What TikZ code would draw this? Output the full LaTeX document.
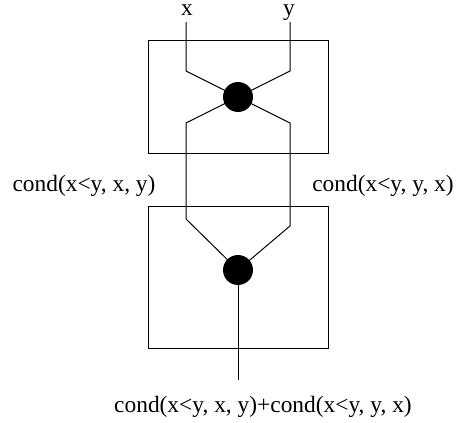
\documentclass[tikz,border=0pt]{standalone}
\usepackage{fontspec}
\setmainfont{Liberation Serif}

\begin{document}
\begin{tikzpicture}[x=0.5pt,y=-0.5pt,line width=0.5pt,
    blob/.style={circle,fill=black,inner sep=0pt,minimum size=15pt},
    lbl/.style={font=\fontsize{11.7}{14}\selectfont,inner sep=0pt,anchor=base}]
  \useasboundingbox (0,0) rectangle (456,423);
  % the two boxes
  \draw (148,40) rectangle (328,153);
  \draw (148,206) rectangle (328,348);
  % inputs and outputs
  \node[lbl] (x) at (187,16) {x};
  \node[lbl] (y) at (289,16) {y};
  \node[lbl] (lo) at (84,191) {cond(x<y, x, y)};
  \node[lbl] (hi) at (383,191) {cond(x<y, y, x)};
  \node[lbl] (sum) at (263,412) {cond(x<y, x, y)+cond(x<y, y, x)};
  % bends of the wires
  \coordinate (xin) at (186,22);
  \coordinate (yin) at (290,22);
  \coordinate (xa) at (186,71);
  \coordinate (ya) at (290,71);
  \coordinate (xb) at (186,123);
  \coordinate (yb) at (290,123);
  \coordinate (xc) at (186,219);
  \coordinate (yc) at (290,226);
  \coordinate (out) at (238,380);
  \coordinate (swapc) at (238,97);
  \coordinate (addc) at (238,270);
  % wires
  \draw (xin) -- (xa) -- (swapc);
  \draw (yin) -- (ya) -- (swapc);
  \draw (swapc) -- (xb) -- (xc) -- (addc);
  \draw (swapc) -- (yb) -- (yc) -- (addc);
  \draw (addc) -- (out);
  % the two operators
  \node[blob] (swap) at (swapc) {};
  \node[blob] (add) at (addc) {};
\end{tikzpicture}
\end{document}
